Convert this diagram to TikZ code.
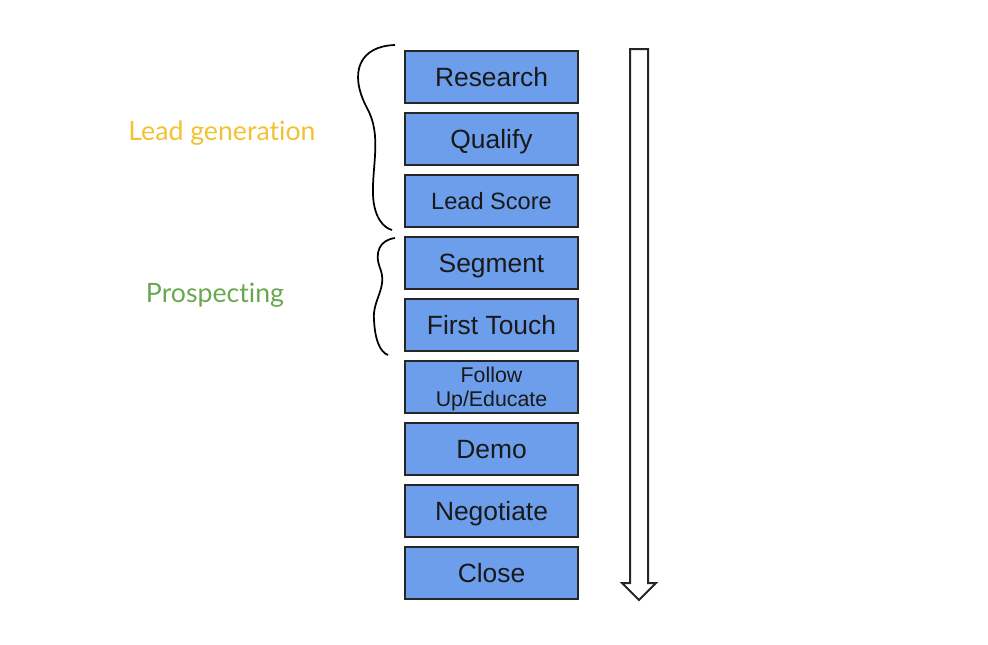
\documentclass[tikz,border=0pt]{standalone}
\usepackage{fontspec}
\setmainfont{Liberation Sans}
\newfontfamily\latofont[Ligatures=NoCommon]{Lato}
\usetikzlibrary{positioning}
\definecolor{stageblue}{HTML}{6D9EEB}
\definecolor{leadyellow}{HTML}{F1C232}
\definecolor{prospgreen}{HTML}{6AA84F}

\begin{document}
\begin{tikzpicture}
[x=0.75pt,y=-0.75pt,line width=1.5pt,
 stagebox/.style={draw=black!85,fill=stageblue,minimum width=129.75pt,minimum
	height=39pt,inner sep=0pt,outer sep=0pt,font=\fontsize{19.8}{21}\selectfont,
	text=black!90,align=center,text height=15pt,text depth=0.8pt},
 phase/.style={font=\latofont\fontsize{20}{22}\selectfont}]
\useasboundingbox (0,0) rectangle (988,644);
\node[stagebox] (research) at (491.5,77) {Research};
\node[stagebox,below=7.5pt of research] (qualify) {Qualify};
\node[stagebox,below=7.5pt of qualify,font=\fontsize{17.7}{19}\selectfont,
	text height=13.5pt] (score) {Lead Score};
\node[stagebox,below=7.5pt of score] (segment) {Segment};
\node[stagebox,below=7.5pt of segment] (touch) {First Touch};
\node[stagebox,below=7.5pt of touch,font=\fontsize{16}{18}\selectfont,
	text height=,text depth=0pt] (follow) {Follow\\Up/Educate};
\node[stagebox,below=7.5pt of follow] (demo) {Demo};
\node[stagebox,below=7.5pt of demo] (negotiate) {Negotiate};
\node[stagebox,below=7.5pt of negotiate] (close) {Close};
% phase labels
\node[phase,text=leadyellow] (leadgen) at (222,133) {Lead generation};
\node[phase,text=prospgreen] (prosp) at (215,295) {Prospecting};
% hand drawn braces
\coordinate (b1top) at (395,45);
\coordinate (b1bot) at (392,230);
\draw[line width=1.3pt] (b1top) .. controls (360,46) and (348,72) .. (367,108)
	.. controls (382,135) and (372,165) .. (373,195)
	.. controls (374,218) and (384,228) .. (b1bot);
\coordinate (b2top) at (395,238);
\coordinate (b2bot) at (388,355);
\draw[line width=1.3pt] (b2top) .. controls (380,240) and (374,252) .. (380,268)
	.. controls (388,288) and (372,300) .. (374,320)
	.. controls (375,340) and (380,352) .. (b2bot);
% flow arrow
\draw[draw=black!85,fill=white,line join=miter] (630,49) -- (648,49) -- (648,583) --
	(656,583) -- (639,600) -- (622,583) -- (630,583) -- cycle;
\end{tikzpicture}
\end{document}
